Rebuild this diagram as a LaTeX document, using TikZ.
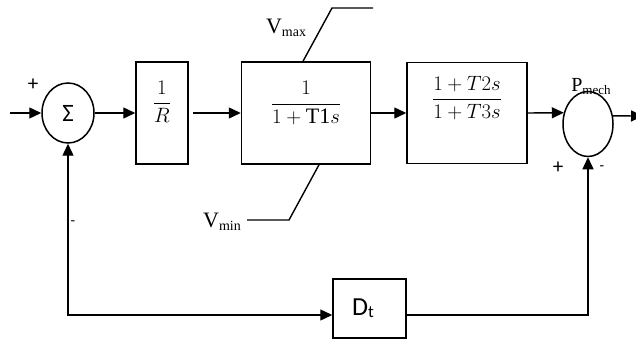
\documentclass[tikz,border=0pt]{standalone}
\usepackage{fontspec}
\setmainfont{Liberation Serif}
\newfontfamily\calib{Carlito}
\usetikzlibrary{arrows.meta,shapes.geometric}

\begin{document}
\begin{tikzpicture}[x=1pt,y=-1pt,
  blk/.style={draw, line width=1.5pt, rectangle, inner sep=0pt},
  sumnode/.style={draw, ellipse, inner sep=0pt, line width=1.5pt},
  tip/.tip={Triangle[length=12pt,width=11pt]},
  sig/.style={-tip, line width=1.4pt},
  wire/.style={line width=1.4pt},
  lbl/.style={inner sep=0pt},
  mathtxt/.style={inner sep=0pt, font=\fontsize{20}{24}\selectfont}]
\useasboundingbox (0,0) rectangle (636,339);

% summing junctions
\node[sumnode, minimum width=52pt, minimum height=60pt] (s1) at (68,113)
  {\calib\fontsize{25}{25}\selectfont Σ};
\node[sumnode, minimum width=50pt, minimum height=65pt] (s2) at (588,124) {};

% transfer-function blocks
\node[blk, minimum width=52pt, minimum height=102pt] (r) at (162,113) {};
\node[blk, minimum width=129pt, minimum height=102pt] (g) at (306,113) {};
\node[blk, minimum width=120pt, minimum height=101pt] (c) at (467,113) {};
\node[blk, minimum width=73pt, minimum height=59pt] (dt) at (369.5,308.5) {};

\node[mathtxt, font=\fontsize{21}{25}\selectfont] (rtxt) at (162,102) {$\displaystyle\frac{1}{R}$};
\node[mathtxt, font=\fontsize{22}{26}\selectfont] (gtxt) at (306,103) {$\displaystyle\frac{1}{1+\mathrm{T1}s}$};
\node[mathtxt] (ctxt) at (467,98) {$\displaystyle\frac{1+T2s}{1+T3s}$};
\node[lbl] (dttxt) at (363,308)
  {\calib\fontsize{26}{26}\selectfont D\raisebox{-2pt}{\fontsize{17}{17}\selectfont t}};

% signal path
\coordinate (in) at (10,113);
\coordinate (out) at (643,116);
\draw[sig] (in) -- (s1.west);
\draw[sig] (s1.east) -- (r.west);
\draw[sig] ([xshift=4pt]r.east) -- (g.west);
\draw[sig] (g.east) -- (c.west);
\draw[sig] (c.east) -- (s2.155);
\draw[sig] (s2.18) -- (out);

% limiter lines
\coordinate (vmaxk) at (332,8);
\coordinate (vmaxe) at (373,8);
\coordinate (vmink) at (289,220);
\coordinate (vmine) at (247,220);
\draw[wire] ([xshift=-3pt]g.north) -- (vmaxk) -- (vmaxe);
\draw[wire] ([xshift=13pt]g.south) -- (vmink) -- (vmine);

% feedback paths
\coordinate (fb) at (588,315);
\coordinate (fl) at (68,315);
\draw[tip-, line width=1.4pt] (s2.south) -- (fb) -- (fb -| dt.east);
\draw[tip-tip, line width=1.4pt] (s1.south) -- (fl) -- (fl -| dt.west);

% labels
\node[lbl] (vmax) at (286,28)
  {\fontsize{22}{22}\selectfont V\raisebox{-3pt}{\fontsize{14}{14}\selectfont max}};
\node[lbl] (vmin) at (222,222)
  {\fontsize{22}{22}\selectfont V\raisebox{-3pt}{\fontsize{14}{14}\selectfont min}};
\node[lbl] (pmech) at (591,87)
  {\fontsize{20}{20}\selectfont P\raisebox{-3pt}{\fontsize{13}{13}\selectfont mech}};
\node[lbl] (p1) at (33,85) {\calib\fontsize{21}{21}\selectfont +};
\node[lbl] (m1) at (73,223) {\calib\fontsize{15}{15}\selectfont -};
\node[lbl] (p2) at (558,168) {\calib\fontsize{21}{21}\selectfont +};
\node[lbl] (m2) at (602,168) {\calib\fontsize{15}{15}\selectfont -};
\end{tikzpicture}
\end{document}
